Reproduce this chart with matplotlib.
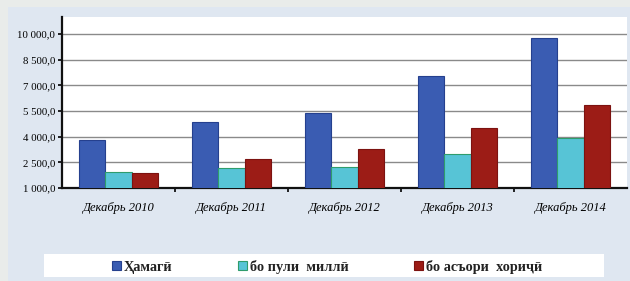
import matplotlib
matplotlib.use("Agg")
import matplotlib.pyplot as plt
from matplotlib.patches import Rectangle, Patch
import numpy as np

categories = ["Декабрь 2010", "Декабрь 2011", "Декабрь 2012", "Декабрь 2013", "Декабрь 2014"]
series_names = ["Ҳамагӣ", "бо пули  миллӣ", "бо асъори  хориҷӣ"]
total = [3800, 4850, 5400, 7550, 9800]
national = [1950, 2150, 2200, 3000, 3950]
foreign = [1900, 2700, 3300, 4500, 5850]
yticks = [1000, 2500, 4000, 5500, 7000, 8500, 10000]
ytick_labels = ["1 000,0", "2 500,0", "4 000,0", "5 500,0", "7 000,0", "8 500,0", "10 000,0"]

W, H = 630, 281
fig = plt.figure(figsize=(W / 100, H / 100), dpi=100, facecolor="#e9ecea")

# light blue panel
fig.patches.append(Rectangle((8 / W, 0), 1 - 8 / W, 1 - 7 / H, transform=fig.transFigure,
                             facecolor="#dfe7f1", edgecolor="none", zorder=0))
# white legend box
fig.patches.append(Rectangle((44 / W, 1 - 277 / H), 560 / W, 23 / H, transform=fig.transFigure,
                             facecolor="white", edgecolor="none", zorder=1))

ax = fig.add_axes([62 / W, 1 - 188 / H, 565 / W, 171 / H])
ax.set_zorder(3)
ax.set_facecolor("white")

x = np.arange(len(categories))
bw = 0.235
colors = ["#3a5cb2", "#57c4d6", "#9c1c16"]
edges = ["#25408e", "#2f9c6c", "#7c1210"]
for i, (vals, c, e) in enumerate(zip([total, national, foreign], colors, edges)):
    ax.bar(x + (i - 1) * bw, vals, width=bw, color=c, edgecolor=e, linewidth=0.8, zorder=3)

ax.set_xlim(-0.5, len(categories) - 0.5)
ax.set_ylim(1000, 11000)
ax.set_yticks(yticks)
ax.set_yticklabels(ytick_labels, family="Liberation Serif", fontsize=7.8)
ax.yaxis.grid(True, color="#8a8a8a", linewidth=1.0, zorder=1)
ax.set_axisbelow(True)

ax.set_xticks(x)
ax.set_xticklabels(categories, family="Liberation Serif", style="italic", fontsize=9.0)
ax.set_xticks(np.arange(0.5, len(categories) - 0.5, 1), minor=True)
ax.tick_params(axis="x", which="major", length=0, pad=10)
ax.tick_params(axis="x", which="minor", length=3, width=1.2, direction="out")
ax.tick_params(axis="y", which="major", length=3, width=1.2, direction="out", pad=2)

for s in ["top", "right"]:
    ax.spines[s].set_visible(False)
for s in ["left", "bottom"]:
    ax.spines[s].set_linewidth(1.6)
    ax.spines[s].set_color("#111111")

handles = [Patch(facecolor=c, edgecolor=e, linewidth=0.8) for c, e in zip(colors, edges)]
leg = fig.legend(handles, series_names, loc="center", bbox_to_anchor=(327 / W, 1 - 267 / H),
                 ncol=3, frameon=False, prop={"family": "Liberation Serif", "size": 10.3, "weight": "bold"},
                 handlelength=0.6, handleheight=0.6, handletextpad=0.2, columnspacing=4.6)
leg.set_zorder(4)
for t in leg.get_texts():
    t.set_color("#222222")

fig.savefig("out.png", dpi=100, facecolor=fig.get_facecolor())
